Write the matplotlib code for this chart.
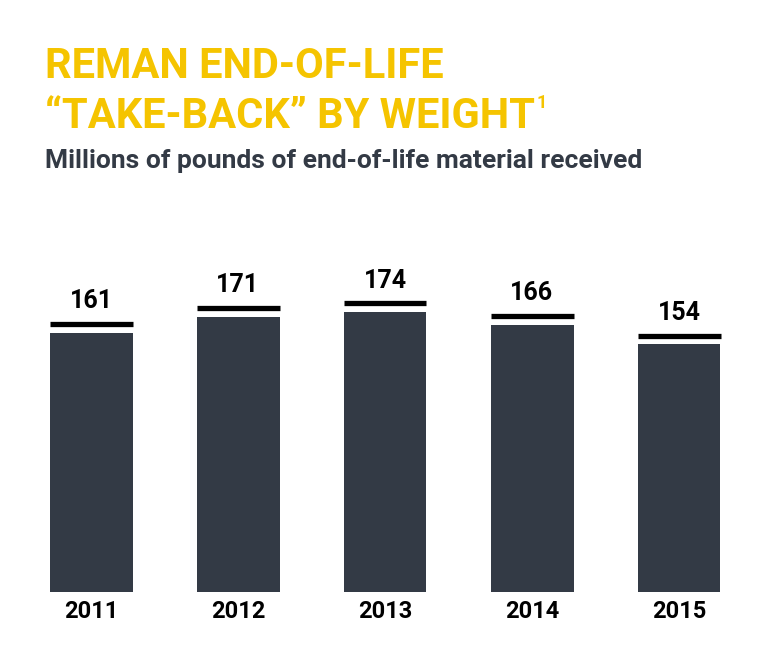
import matplotlib
matplotlib.use("Agg")
import matplotlib.pyplot as plt

years = ["2011", "2012", "2013", "2014", "2015"]
values = [161, 171, 174, 166, 154]

FONT = ['Liberation Sans Narrow', 'Roboto', 'DejaVu Sans']
W, H = 782, 661
fig = plt.figure(figsize=(W/100, H/100), dpi=100)
pxu = 1.61
ax_h = 420
ax = fig.add_axes([17.5/W, 69/H, 735/W, ax_h/H])
ax.set_xlim(-0.5, 4.5)
ax.set_ylim(0, ax_h/pxu)
bw = 83/147
x = range(len(years))
ax.bar(x, values, width=bw, color='#333a45')
for i, v in enumerate(values):
    ax.hlines(v + 5.2, i - bw/2, i + bw/2, color='black', lw=3.8)
    ax.text(i, v + 12, str(v), ha='center', va='bottom', fontsize=18,
            fontweight='bold', family=FONT, color='black')
ax.set_xticks(list(x))
ax.set_xticklabels(years, fontsize=17, fontweight='bold', family=FONT)
ax.tick_params(length=0, pad=6)
ax.set_yticks([])
for s in ax.spines.values():
    s.set_visible(False)

fig.text(45/W, 1-78/H, "REMAN END-OF-LIFE", fontsize=30, fontweight='bold',
         color='#f5c400', family=FONT, va='baseline')
t2 = fig.text(45/W, 1-128/H, "“TAKE-BACK” BY WEIGHT", fontsize=30, fontweight='bold',
              color='#f5c400', family=FONT, va='baseline')
fig.text(1.0, 0.0, "1", fontsize=13, fontweight='bold', color='#f5c400',
         family=FONT, va='bottom', ha='left',
         transform=matplotlib.transforms.offset_copy(
             fig.transFigure, fig=fig, x=0, y=0) if False else None) if False else None
fig.canvas.draw()
bb = t2.get_window_extent()
fig.text((bb.x1 + 2)/W, (bb.y1 - 16)/H, "1", fontsize=13, fontweight='bold',
         color='#f5c400', family=FONT, va='bottom', ha='left')
fig.text(45/W, 1-168/H, "Millions of pounds of end-of-life material received",
         fontsize=19, fontweight='bold', color='#333a45', family=FONT, va='baseline')
fig.savefig("out.png", dpi=100)
